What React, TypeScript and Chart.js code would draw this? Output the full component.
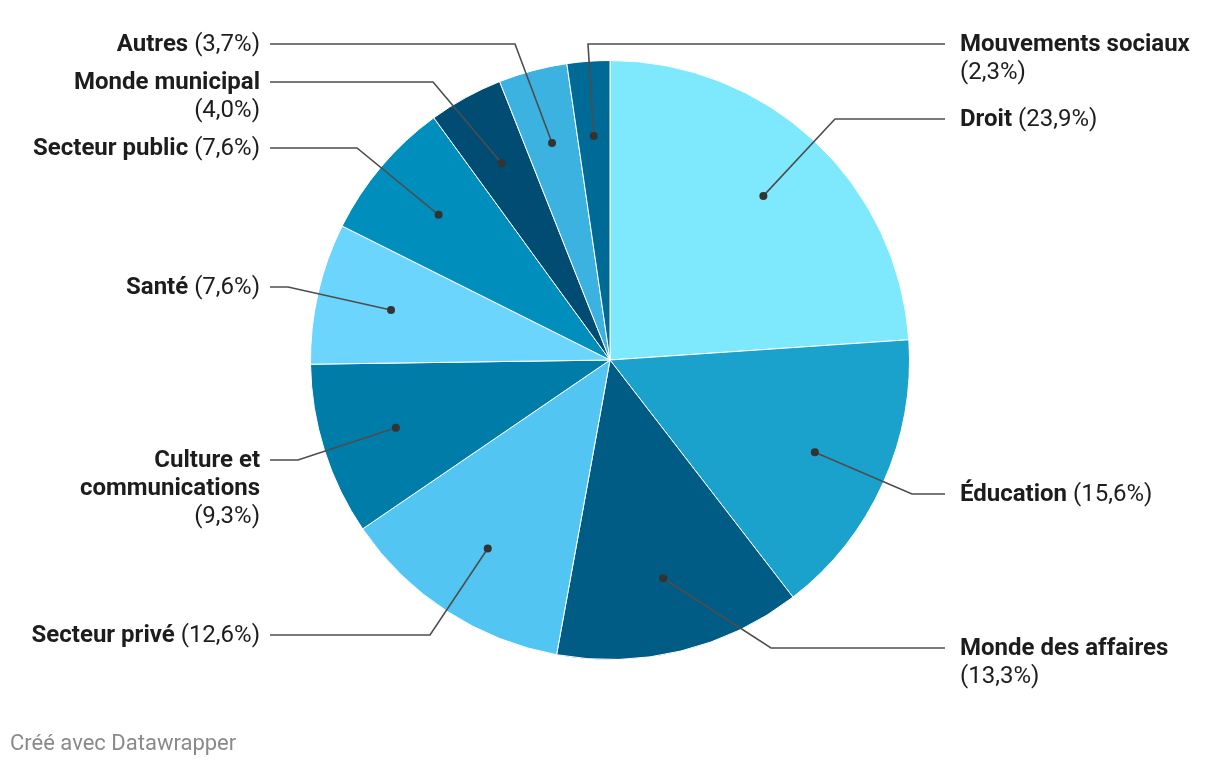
import React, { useEffect, useRef } from "react";
import { Chart, registerables } from "chart.js";

Chart.register(...registerables);

const categories = [
  "Droit",
  "Éducation",
  "Monde des affaires",
  "Secteur privé",
  "Culture et communications",
  "Santé",
  "Secteur public",
  "Monde municipal",
  "Autres",
  "Mouvements sociaux",
];
const values = [23.9, 15.6, 13.3, 12.6, 9.3, 7.6, 7.6, 4.0, 3.7, 2.3];
const colors = [
  "#7ee9fd",
  "#1aa2cd",
  "#005b85",
  "#53c5f2",
  "#007ca8",
  "#6bd5fd",
  "#008fbc",
  "#004c72",
  "#3bb2e0",
  "#006a96",
];

// Label layout: side, text lines ([bold, regular] per line), first line y, elbow x
type Seg = { t: string; b: boolean };
const labelLayout: { side: "L" | "R"; lines: Seg[][]; y: number; ex: number }[] = [
  { side: "R", lines: [[{ t: "Droit", b: true }, { t: " (23,9%)", b: false }]], y: 119, ex: 835 },
  { side: "R", lines: [[{ t: "Éducation", b: true }, { t: " (15,6%)", b: false }]], y: 494, ex: 912 },
  { side: "R", lines: [[{ t: "Monde des affaires", b: true }], [{ t: "(13,3%)", b: false }]], y: 648, ex: 771 },
  { side: "L", lines: [[{ t: "Secteur privé", b: true }, { t: " (12,6%)", b: false }]], y: 635, ex: 430 },
  { side: "L", lines: [[{ t: "Culture et", b: true }], [{ t: "communications", b: true }], [{ t: "(9,3%)", b: false }]], y: 460, ex: 298 },
  { side: "L", lines: [[{ t: "Santé", b: true }, { t: " (7,6%)", b: false }]], y: 287, ex: 288 },
  { side: "L", lines: [[{ t: "Secteur public", b: true }, { t: " (7,6%)", b: false }]], y: 148, ex: 357 },
  { side: "L", lines: [[{ t: "Monde municipal", b: true }], [{ t: "(4,0%)", b: false }]], y: 82, ex: 433 },
  { side: "L", lines: [[{ t: "Autres", b: true }, { t: " (3,7%)", b: false }]], y: 44, ex: 515 },
  { side: "R", lines: [[{ t: "Mouvements sociaux", b: true }], [{ t: "(2,3%)", b: false }]], y: 44, ex: 588 },
];

const FONT = "Roboto, 'Noto Sans', sans-serif";
const FS = 24;

const labelPlugin = {
  id: "leaderLabels",
  afterDraw(chart: any) {
    const ctx = chart.ctx as CanvasRenderingContext2D;
    const meta = chart.getDatasetMeta(0);
    ctx.save();
    meta.data.forEach((arc: any, i: number) => {
      const lay = labelLayout[i];
      if (!lay) return;
      const p = arc.getProps(["x", "y", "startAngle", "endAngle", "outerRadius"], true);
      const mid = (p.startAngle + p.endAngle) / 2;
      const r = p.outerRadius * 0.75;
      const dx = p.x + Math.cos(mid) * r;
      const dy = p.y + Math.sin(mid) * r;
      const lineEnd = lay.side === "R" ? 945 : 270;
      ctx.strokeStyle = "#4d4d4d";
      ctx.lineWidth = 1.6;
      ctx.beginPath();
      ctx.moveTo(dx, dy);
      ctx.lineTo(lay.ex, lay.y);
      ctx.lineTo(lineEnd, lay.y);
      ctx.stroke();
      ctx.fillStyle = "#333333";
      ctx.beginPath();
      ctx.arc(dx, dy, 4, 0, Math.PI * 2);
      ctx.fill();
      ctx.textBaseline = "middle";
      ctx.fillStyle = "#1d1d1d";
      lay.lines.forEach((segs, li) => {
        const y = lay.y + 1 + li * 28;
        const widths = segs.map((s) => {
          ctx.font = `${s.b ? "bold " : ""}${FS}px ${FONT}`;
          return ctx.measureText(s.t).width;
        });
        const total = widths.reduce((a, b) => a + b, 0);
        let x = lay.side === "R" ? 960 : 260 - total;
        segs.forEach((s, si) => {
          ctx.font = `${s.b ? "bold " : ""}${FS}px ${FONT}`;
          ctx.textAlign = "left";
          ctx.fillText(s.t, x, y);
          x += widths[si];
        });
      });
    });
    ctx.font = `22px ${FONT}`;
    ctx.fillStyle = "#8a8a8a";
    ctx.textAlign = "left";
    ctx.textBaseline = "alphabetic";
    ctx.fillText("Créé avec Datawrapper", 10, 750);
    ctx.restore();
  },
};

export default function App() {
  const ref = useRef<HTMLCanvasElement | null>(null);
  useEffect(() => {
    document.body.style.margin = "0";
    document.body.style.background = "#ffffff";
    if (!ref.current) return;
    const chart = new Chart(ref.current, {
      type: "pie",
      data: {
        labels: categories,
        datasets: [
          {
            data: values,
            backgroundColor: colors,
            borderColor: "#ffffff",
            borderWidth: 1,
          },
        ],
      },
      options: {
        animation: false,
        responsive: false,
        maintainAspectRatio: false,
        layout: { padding: { top: 60, bottom: 106, left: 310, right: 310 } },
        plugins: {
          legend: { display: false },
          tooltip: { enabled: false },
        },
      },
      plugins: [labelPlugin],
    });
    return () => chart.destroy();
  }, []);
  return (
    <div style={{ width: 1220, height: 766, position: "relative" }}>
      <canvas ref={ref} width={1220} height={766} style={{ display: "block" }} />
    </div>
  );
}
